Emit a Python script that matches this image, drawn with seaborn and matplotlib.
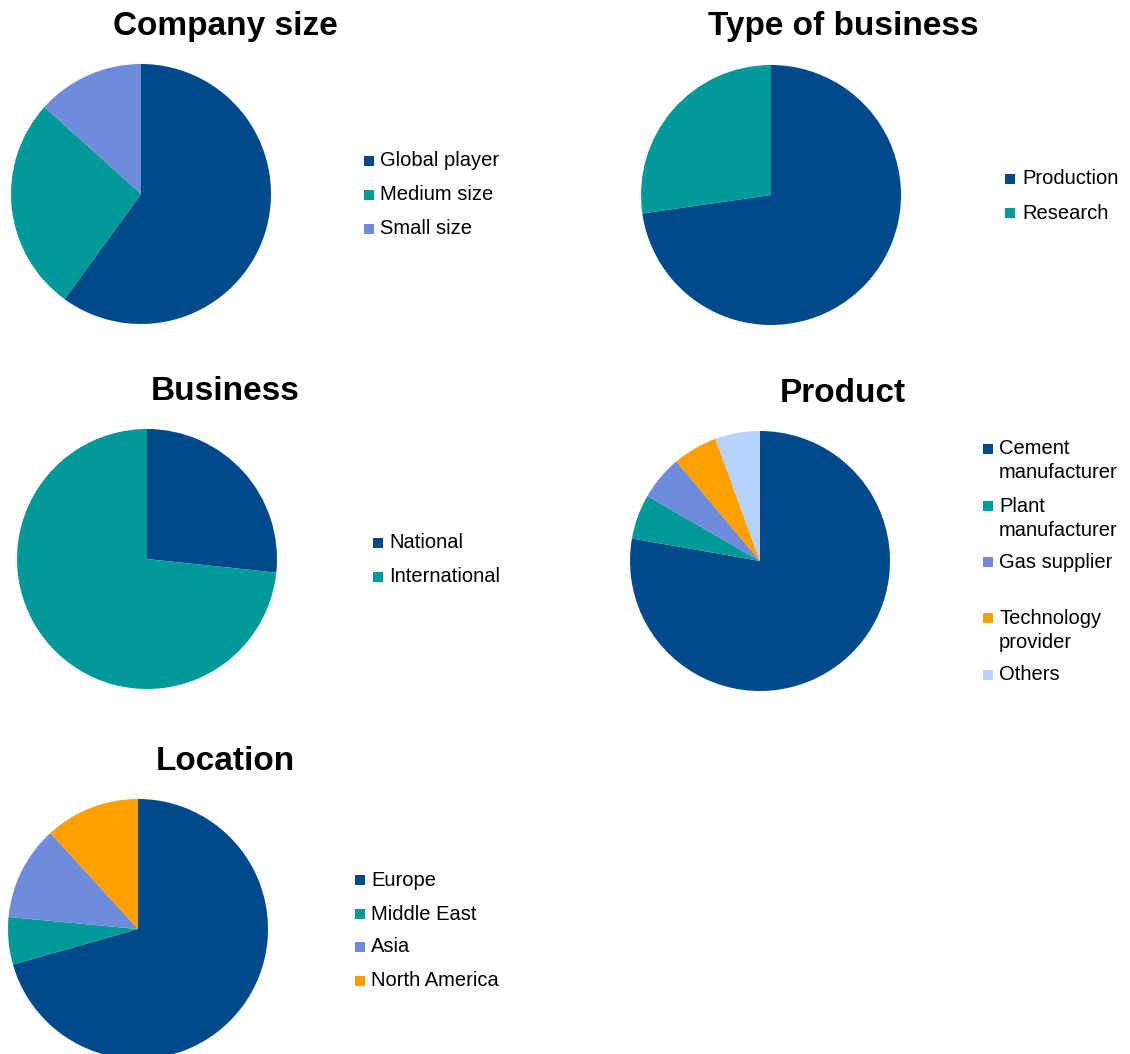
import matplotlib
matplotlib.use("Agg")
import matplotlib.pyplot as plt
from matplotlib.patches import Rectangle
import seaborn as sns

# Survey breakdowns (respondent counts)
company_labels = ["Global player", "Medium size", "Small size"]
company_counts = [9, 4, 2]

business_type_labels = ["Production", "Research"]
business_type_counts = [8, 3]

business_labels = ["National", "International"]
business_counts = [4, 11]

product_labels = ["Cement\nmanufacturer", "Plant\nmanufacturer", "Gas supplier",
                  "Technology\nprovider", "Others"]
product_counts = [14, 1, 1, 1, 1]

location_labels = ["Europe", "Middle East", "Asia", "North America"]
location_counts = [12, 1, 2, 2]

sns.set_theme(style="white")
plt.rcParams["font.family"] = ["Liberation Sans", "DejaVu Sans"]

palette = ["#004A8C", "#009999", "#6F8CDC", "#FFA000", "#B4D4FF"]

W, H = 1130, 1054
fig = plt.figure(figsize=(W / 100, H / 100), dpi=100)
fig.patch.set_facecolor("white")

R = 130  # pie radius in pixels


def fx(px):
    return px / W


def fy(py):
    return 1 - py / H


def draw_pie(cx, cy, values, title, tx, ty):
    ax = fig.add_axes([fx(cx - R), fy(cy + R), 2 * R / W, 2 * R / H])
    ax.pie(values, colors=palette[:len(values)], startangle=90,
           counterclock=False, radius=1.0,
           wedgeprops=dict(linewidth=0))
    ax.set_xlim(-1, 1)
    ax.set_ylim(-1, 1)
    ax.set_aspect("equal")
    ax.axis("off")
    fig.text(fx(tx), fy(ty), title, fontsize=24, fontweight="bold",
             ha="center", va="center", color="black")


def draw_legend(mx, tx, rows, labels, line_gap=24):
    for i, (y, lab) in enumerate(zip(rows, labels)):
        fig.patches.append(Rectangle((fx(mx - 5), fy(y + 5)), 10 / W, 10 / H,
                                     transform=fig.transFigure,
                                     facecolor=palette[i], edgecolor="none"))
        for k, line in enumerate(lab.split("\n")):
            fig.text(fx(tx), fy(y + k * line_gap), line, fontsize=14.5,
                     ha="left", va="center", color="black")


draw_pie(141, 194, company_counts, "Company size", 225, 27)
draw_legend(369, 380, [161, 195, 229], company_labels)

draw_pie(771, 195, business_type_counts, "Type of business", 843, 27)
draw_legend(1010, 1022, [179, 213], business_type_labels)

draw_pie(147, 559, business_counts, "Business", 225, 391)
draw_legend(378, 389, [543, 577], business_labels)

draw_pie(760, 561, product_counts, "Product", 843, 394)
draw_legend(988, 999, [449, 506, 562, 618, 675], product_labels)

draw_pie(138, 929, location_counts, "Location", 225, 762)
draw_legend(360, 371, [880, 914, 947, 981], location_labels)

fig.savefig("out.png", dpi=100, facecolor="white")
